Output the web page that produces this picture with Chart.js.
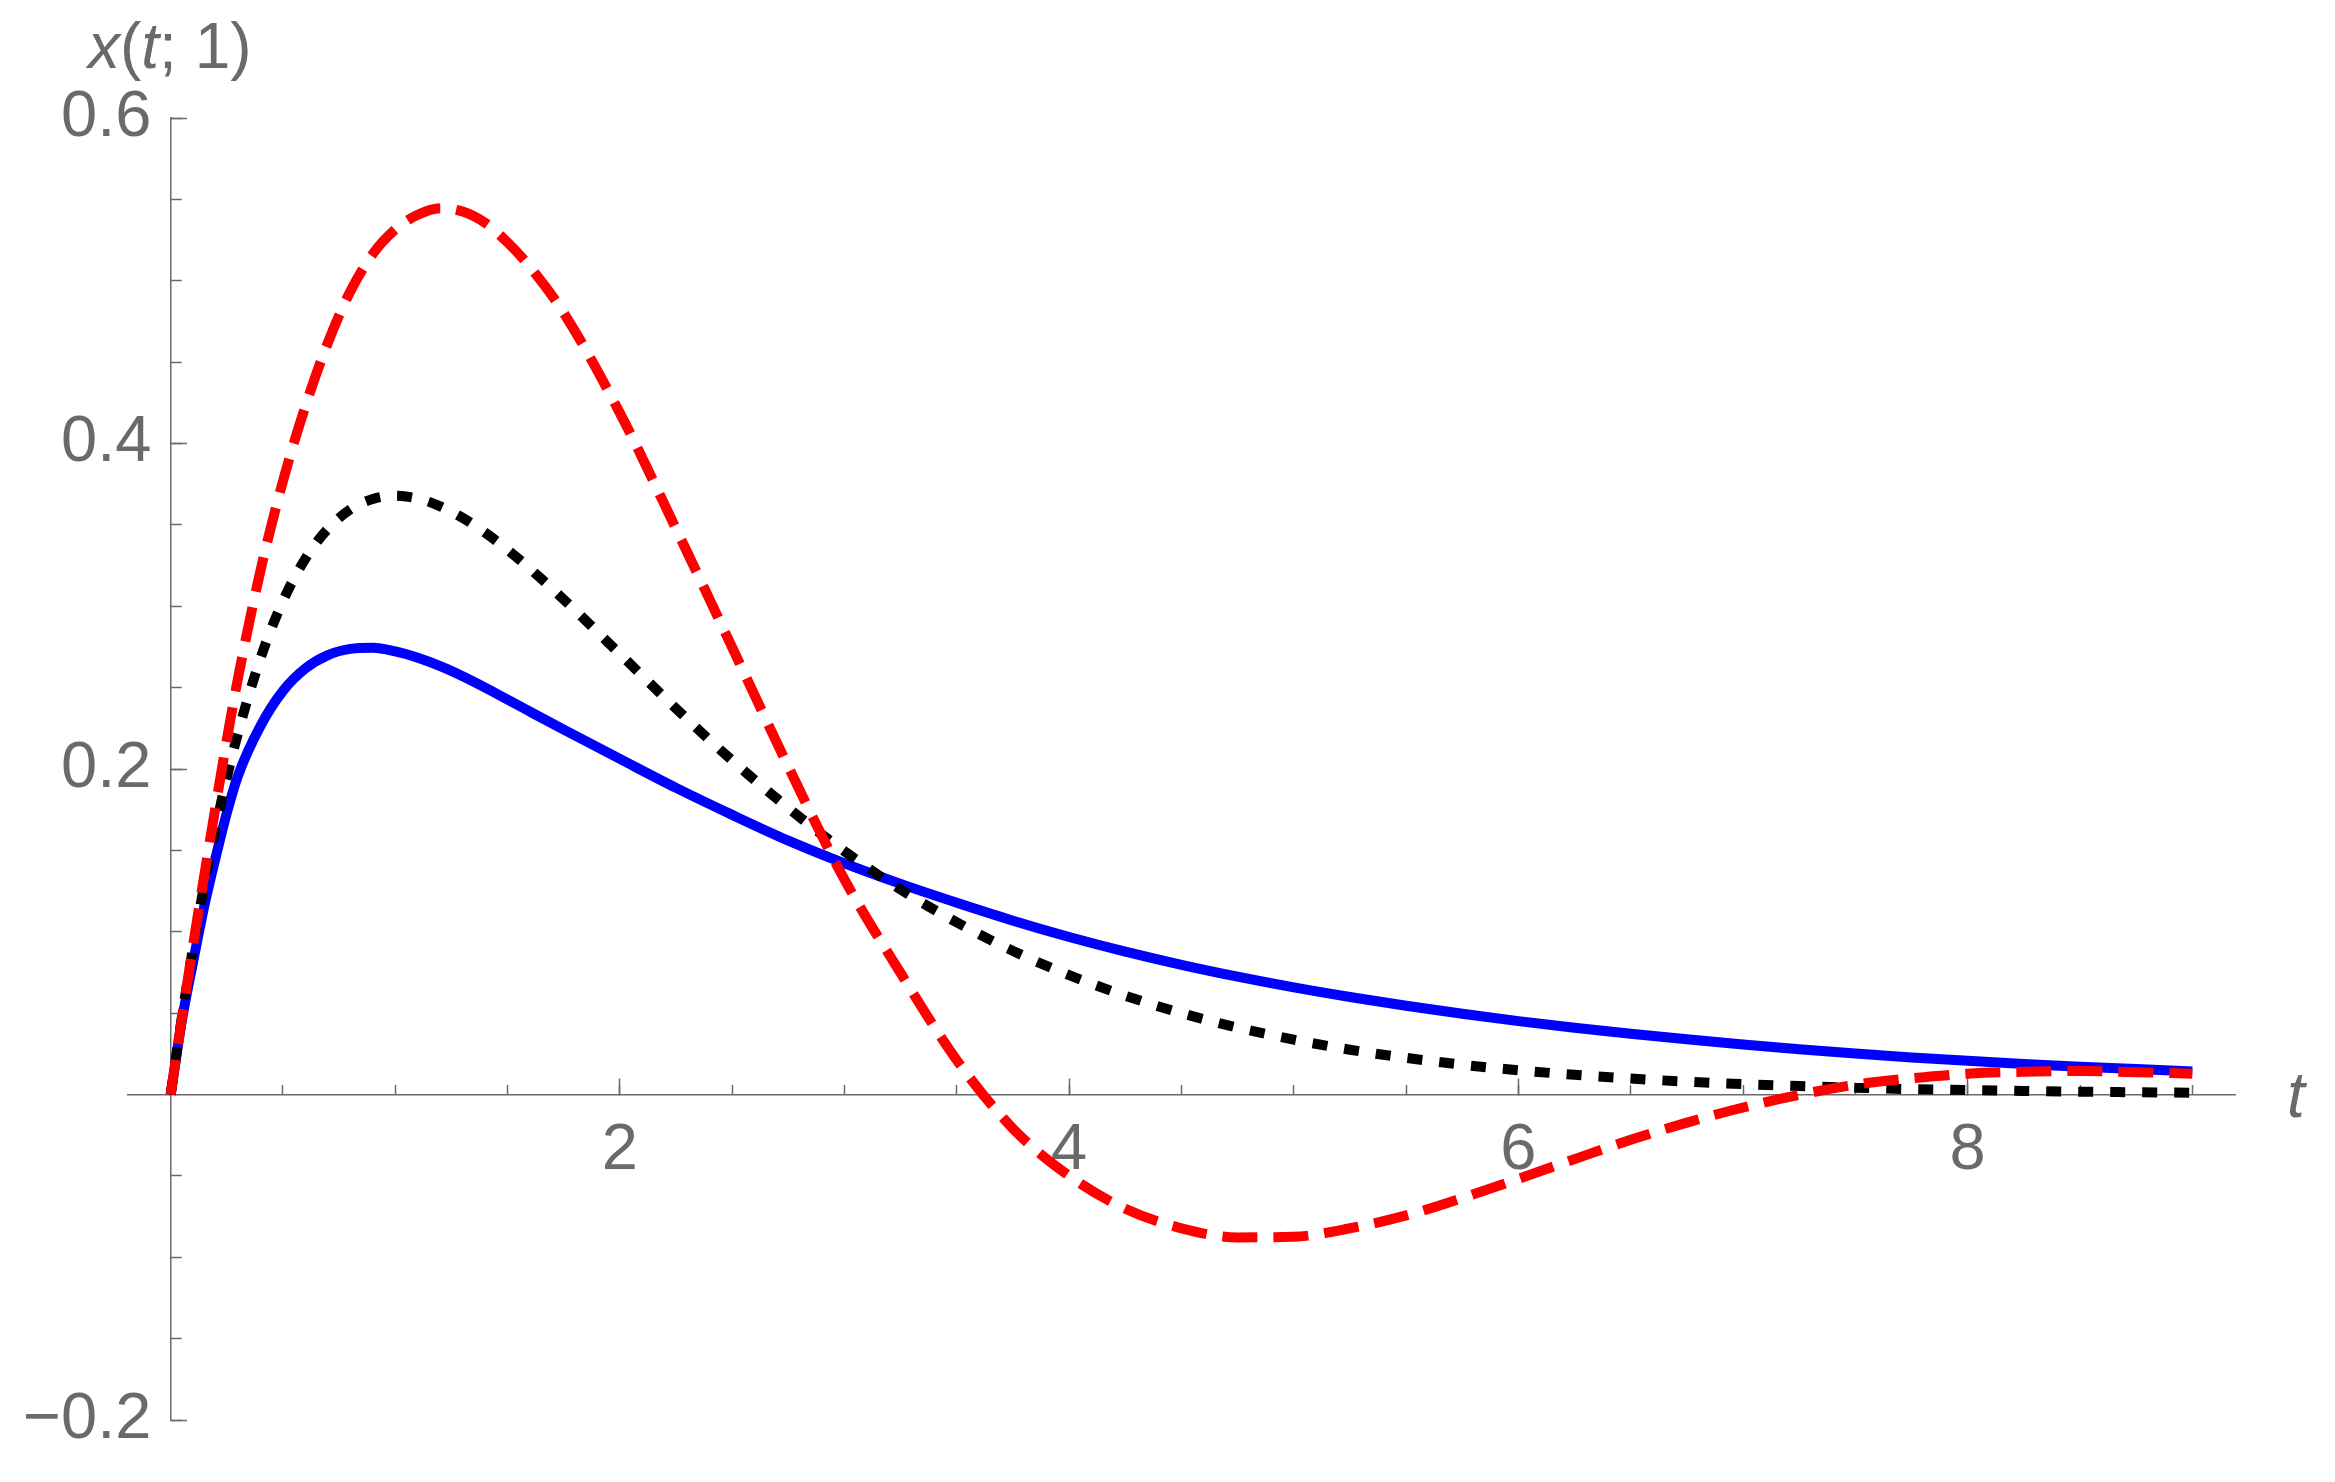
<!DOCTYPE html>
<html>
<head>
<meta charset="utf-8">
<title>x(t; 1)</title>
<script src="https://cdn.jsdelivr.net/npm/chart.js@4.4.0/dist/chart.umd.min.js"></script>
<style>
  html, body { margin: 0; padding: 0; background: #fff; }
  canvas { display: block; }
</style>
</head>
<body>
<canvas id="plot" width="2335" height="1482"></canvas>
<script>
// values
const tValues = [0, 0.05, 0.1, 0.15, 0.2, 0.25, 0.3, 0.4, 0.5, 0.6, 0.7, 0.8, 0.9, 1.0,
  1.1, 1.2, 1.3, 1.4, 1.5, 1.6, 1.75, 2.0, 2.25, 2.5, 2.75, 3.0, 3.25, 3.5, 3.75, 4.0,
  4.25, 4.5, 4.75, 5.0, 5.25, 5.5, 5.75, 6.0, 6.25, 6.5, 6.75, 7.0, 7.25, 7.5, 7.75,
  8.0, 8.25, 8.5, 8.75, 9.0];

const blueValues = [0, 0.0455, 0.0815, 0.116, 0.1455, 0.173, 0.196, 0.2265, 0.248,
  0.2618, 0.270, 0.2738, 0.2745, 0.2722, 0.2683, 0.2632, 0.257, 0.250, 0.2426, 0.2352,
  0.2242, 0.2062, 0.1884, 0.1718, 0.156, 0.142, 0.1294, 0.1178, 0.1068, 0.0968, 0.0878,
  0.0797, 0.0724, 0.0658, 0.0599, 0.0545, 0.0496, 0.0451, 0.041, 0.0373, 0.0339,
  0.0307, 0.0278, 0.0252, 0.0228, 0.0207, 0.0188, 0.0171, 0.0156, 0.0142];

const blackValues = [0, 0.0476, 0.0905, 0.1291, 0.1637, 0.1947, 0.2222, 0.2681, 0.3033,
  0.3293, 0.3476, 0.3595, 0.3659, 0.3679, 0.3662, 0.3614, 0.3543, 0.3452, 0.3347,
  0.323, 0.3041, 0.2707, 0.2371, 0.2052, 0.176, 0.1494, 0.1259, 0.1057, 0.0882, 0.0733,
  0.0607, 0.05, 0.0411, 0.0337, 0.0275, 0.0225, 0.0183, 0.0149, 0.0121, 0.0098, 0.0079,
  0.0064, 0.0052, 0.0042, 0.0033, 0.0027, 0.0022, 0.0017, 0.0014, 0.0011];

const redValues = [0, 0.047, 0.092, 0.135, 0.177, 0.218, 0.256, 0.322, 0.377, 0.423,
  0.462, 0.4935, 0.5165, 0.5315, 0.5405, 0.5445, 0.5425, 0.5355, 0.5235, 0.5085, 0.4802,
  0.4187, 0.3475, 0.2746, 0.2013, 0.132, 0.0745, 0.021, -0.021, -0.050, -0.0702,
  -0.0822, -0.0878, -0.0874, -0.0822, -0.0743, -0.0636, -0.0518, -0.0397, -0.0278,
  -0.0173, -0.008, -0.0002, 0.006, 0.010, 0.0128, 0.014, 0.0144, 0.0137, 0.0128];

const xTickValues = [2, 4, 6, 8];
const xTickLabels = ['2', '4', '6', '8'];
const yTickValues = [-0.2, 0.2, 0.4, 0.6];
const yTickLabels = ['\u22120.2', '0.2', '0.4', '0.6'];

const gray = '#6a6a6a';
const labelFont = { family: "'Liberation Sans', Arial, sans-serif", size: 65 };

const toPoints = vals => tValues.map((t, i) => ({ x: t, y: vals[i] }));

const labelFor = (values, labels) => function (value) {
  const i = values.findIndex(v => Math.abs(v - value) < 1e-9);
  return i < 0 ? '' : labels[i];
};

const hideZero = ctx => (ctx.tick && Math.abs(ctx.tick.value) < 1e-9 ? 'rgba(0,0,0,0)' : gray);

// x(t; 1) at the top and t at the right end of the axis
const axisTitles = {
  id: 'axisTitles',
  afterDraw(chart) {
    const ctx = chart.ctx;
    const y0 = chart.scales.y.getPixelForValue(0);
    ctx.save();
    ctx.fillStyle = gray;
    ctx.textBaseline = 'alphabetic';
    const parts = [['x', true], ['(', false], ['t', true], ['; 1)', false]];
    let x = 88;
    parts.forEach(([s, italic]) => {
      ctx.font = (italic ? 'italic ' : '') + '64px "Liberation Sans"';
      ctx.fillText(s, x, 68);
      x += ctx.measureText(s).width;
    });
    ctx.font = 'italic 64px "Liberation Sans"';
    ctx.fillText('t', chart.chartArea.right + 52, y0 + 22);
    ctx.restore();
  },
};

new Chart(document.getElementById('plot'), {
  type: 'line',
  data: {
    datasets: [
      {
        label: 'red',
        data: toPoints(redValues),
        borderColor: '#ff0000',
        borderWidth: 10,
        borderDash: [35, 16],
        borderCapStyle: 'butt',
      },
      {
        label: 'black',
        data: toPoints(blackValues),
        borderColor: '#000000',
        borderWidth: 10,
        borderDash: [15, 17],
        borderCapStyle: 'butt',
      },
      {
        label: 'blue',
        data: toPoints(blueValues),
        borderColor: '#0000ff',
        borderWidth: 10,
      },
    ],
  },
  options: {
    responsive: false,
    animation: false,
    elements: {
      point: { radius: 0 },
      line: { cubicInterpolationMode: 'monotone', fill: false },
    },
    layout: { padding: { left: 128, right: 100, top: 118, bottom: 62 } },
    plugins: { legend: { display: false }, tooltip: { enabled: false } },
    scales: {
      x: {
        type: 'linear',
        position: { y: 0 },
        min: -0.19,
        max: 9.19,
        border: { display: true, color: gray, width: 1.5 },
        grid: { display: true, drawOnChartArea: false, drawTicks: true, tickLength: -17, tickColor: hideZero, tickWidth: 1.5 },
        ticks: {
          stepSize: 2,
          includeBounds: false,
          autoSkip: false,
          maxRotation: 0,
          padding: 35,
          color: gray,
          font: labelFont,
          callback: labelFor(xTickValues, xTickLabels),
        },
      },
      xMinor: {
        type: 'linear',
        axis: 'x',
        position: { y: 0 },
        min: -0.19,
        max: 9.19,
        border: { display: false },
        grid: { display: true, drawOnChartArea: false, drawTicks: true, tickLength: -10, tickColor: hideZero, tickWidth: 1.5 },
        ticks: { stepSize: 0.5, includeBounds: false, autoSkip: false, display: false },
      },
      y: {
        type: 'linear',
        position: { x: 0 },
        min: -0.2,
        max: 0.6,
        border: { display: true, color: gray, width: 1.5 },
        grid: { display: true, drawOnChartArea: false, drawTicks: true, tickLength: -17, tickColor: hideZero, tickWidth: 1.5 },
        ticks: { stepSize: 0.2, includeBounds: false, autoSkip: false, display: false },
      },
      yMinor: {
        type: 'linear',
        axis: 'y',
        position: { x: 0 },
        min: -0.2,
        max: 0.6,
        border: { display: false },
        grid: { display: true, drawOnChartArea: false, drawTicks: true, tickLength: -10.7, tickColor: hideZero, tickWidth: 1.5 },
        ticks: { stepSize: 0.05, includeBounds: false, autoSkip: false, display: false },
      },
      // tick labels of the vertical axis, set a little to the left of t = 0
      yLabels: {
        type: 'linear',
        axis: 'y',
        position: { x: -0.086 },
        min: -0.2,
        max: 0.6,
        border: { display: false },
        grid: { display: false },
        ticks: {
          stepSize: 0.2,
          includeBounds: false,
          autoSkip: false,
          padding: 0,
          color: gray,
          font: labelFont,
          callback: labelFor(yTickValues, yTickLabels),
        },
      },
    },
  },
  plugins: [axisTitles],
});
</script>
</body>
</html>
